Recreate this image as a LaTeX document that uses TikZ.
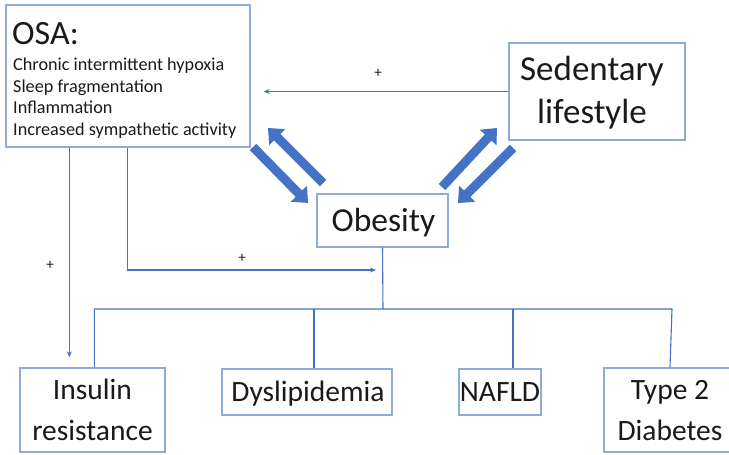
\documentclass[tikz,border=0pt]{standalone}
\usepackage{fontspec}
\setmainfont{Carlito}
\usetikzlibrary{arrows.meta,calc}
\definecolor{lineblue}{HTML}{4472C4}
\definecolor{boxblue}{HTML}{8FAADC}
\definecolor{txt}{HTML}{1A1A1A}
\tikzset{
  box/.style={draw=boxblue, line width=1.3pt, fill=white, inner sep=0pt},
  thin/.style={draw=lineblue, line width=1.1pt},
  thinarr/.style={thin, -{Stealth[length=6pt,width=5pt]}},
  fat/.style={draw=lineblue, line width=9pt, -{Triangle[width=22pt,length=13pt]}},
  plus/.style={font=\fontsize{15}{15}\selectfont, text=txt, inner sep=0pt},
  big/.style={text=txt, inner sep=0pt, anchor=base},
}
\begin{document}
\begin{tikzpicture}[x=1pt,y=-1pt]
\useasboundingbox (0,0) rectangle (729,455);
\clip (0,0) rectangle (729,455);
% boxes
\node[box, minimum width=244pt, minimum height=142pt] (osa) at (128,76) {};
\node[big, anchor=base west, font=\fontsize{34}{35}\selectfont] (osat) at (12,45) {OSA:};
\node[anchor=base west, inner sep=0pt, text=txt, font=\fontsize{18.2}{21.5}\selectfont, align=left] (osal) at (13,135)
  {Chronic intermittent hypoxia\\Sleep fragmentation\\Inflammation\\Increased sympathetic activity};
\node[box, minimum width=176pt, minimum height=97pt] (sed) at (597,91.5) {};
\node[big, font=\fontsize{35}{43}\selectfont, align=center] (sedt) at (592,123) {Sedentary\\lifestyle};
\node[box, minimum width=131pt, minimum height=53pt] (obe) at (382.5,220.5) {};
\node[big, font=\fontsize{33.5}{34}\selectfont] (obet) at (383.5,231) {Obesity};
\node[box, minimum width=145pt, minimum height=84pt] (ins) at (92.5,410) {};
\node[big, font=\fontsize{29.5}{41}\selectfont, align=center] (inst) at (92.5,440) {Insulin\\resistance};
\node[box, minimum width=170pt, minimum height=46pt] (dys) at (307,392) {};
\node[big, font=\fontsize{29.5}{31}\selectfont] (dyst) at (308,401) {Dyslipidemia};
\node[box, minimum width=82pt, minimum height=46pt] (naf) at (500,392) {};
\node[big, font=\fontsize{29.5}{31}\selectfont] (naft) at (500,401) {NAFLD};
\node[box, minimum width=132pt, minimum height=84pt] (t2) at (670,410) {};
\node[big, font=\fontsize{29.5}{41}\selectfont, align=center] (t2t) at (670,440) {Type 2\\Diabetes};
% thin connectors
\draw[thinarr, shorten >=13pt] (sed.west) -- (sed.west -| osa.east);
\node[plus] (p1) at (378,73) {+};
\draw[thinarr, shorten >=10pt] ([xshift=64pt]osa.south west) -- ([xshift=50pt]ins.north west);
\node[plus] (p2) at (50,265) {+};
\coordinate (jn) at (383,309);
\coordinate (oend) at (376,270);
\draw[thinarr] ([xshift=122pt]osa.south west) |- (oend);
\node[plus] (p3) at (242,258) {+};
\draw[thin] (obe.south) -- (jn);
\draw[thin] ([xshift=75pt]ins.north west) |- ([xshift=2pt]t2.north |- jn) -- (t2.north);
\draw[thin] ([xshift=7pt]dys.north) -- ([xshift=7pt]dys.north |- jn);
\draw[thin] ([xshift=13pt]naf.north) -- ([xshift=13pt]naf.north |- jn);
% fat arrows
\coordinate (a1s) at (253,147); \coordinate (a1e) at (308,203);
\coordinate (a2s) at (323,183); \coordinate (a2e) at (268,128);
\coordinate (a3s) at (442,187); \coordinate (a3e) at (497,128);
\coordinate (a4s) at (513,148); \coordinate (a4e) at (458,203);
\draw[fat] (a1s) -- (a1e);
\draw[fat] (a2s) -- (a2e);
\draw[fat] (a3s) -- (a3e);
\draw[fat] (a4s) -- (a4e);
\end{tikzpicture}
\end{document}
